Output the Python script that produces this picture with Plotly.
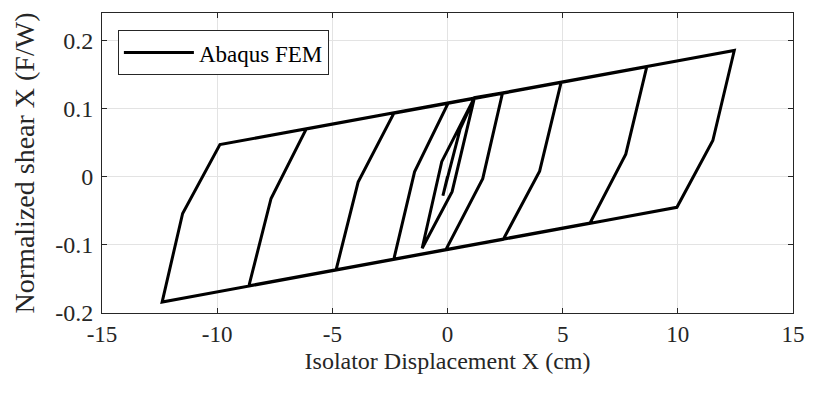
import plotly.graph_objects as go

# Hysteresis path (displacement in cm, normalized shear F/W)
disp_cm = [0, 0.35, -0.2, 0.55, 1.17, 0.2, -1.1, -0.25, 1.17,
           2.39, 1.53, -0.07, -2.33, -1.43, 0.03,
           4.93, 4.0, 2.42, -4.84, -3.88, -2.33,
           8.65, 7.74, 6.19, -8.62, -7.66, -6.13,
           12.45, 11.52, 9.96, -12.39, -11.5, -9.88, 12.45]
shear_fw = [0, 0.045, -0.028, 0.07, 0.116, -0.022, -0.105, 0.022, 0.116,
            0.123, -0.003, -0.107, -0.121, 0.007, 0.108,
            0.138, 0.008, -0.092, -0.137, -0.008, 0.093,
            0.161, 0.033, -0.068, -0.160, -0.032, 0.070,
            0.185, 0.053, -0.045, -0.184, -0.054, 0.047, 0.185]

x_ticks = [-15, -10, -5, 0, 5, 10, 15]
x_tick_text = ["-15", "-10", "-5", "0", "5", "10", "15"]
y_ticks = [-0.2, -0.1, 0, 0.1, 0.2]
y_tick_text = ["-0.2", "-0.1", "0", "0.1", "0.2"]

FONT = "Liberation Serif"
AXIS_COLOR = "#262626"
GRID_COLOR = "#e3e3e3"

fig = go.Figure()
fig.add_trace(go.Scatter(x=disp_cm, y=shear_fw, mode="lines", name="Abaqus FEM",
                         line=dict(color="black", width=3)))

fig.update_layout(
    width=817, height=395,
    margin=dict(l=102, r=17, t=13, b=82),
    paper_bgcolor="white", plot_bgcolor="white",
    font=dict(family=FONT, size=23, color=AXIS_COLOR),
    showlegend=True,
    legend=dict(x=0.023, y=0.943, xanchor="left", yanchor="top",
                bgcolor="white", bordercolor=AXIS_COLOR, borderwidth=1,
                font=dict(family=FONT, size=23, color="black"),
                itemwidth=70, tracegroupgap=0),
)
fig.update_xaxes(range=[-15, 15], tickvals=x_ticks, ticktext=x_tick_text,
                 showgrid=True, gridcolor=GRID_COLOR, gridwidth=1,
                 showline=True, linecolor=AXIS_COLOR, linewidth=1, mirror="ticks",
                 ticks="inside", ticklen=5, tickcolor=AXIS_COLOR, zeroline=False,
                 tickfont=dict(family=FONT, size=23, color=AXIS_COLOR),
                 title=dict(text="Isolator Displacement X (cm)", standoff=6,
                            font=dict(family=FONT, size=24, color=AXIS_COLOR)))
fig.update_yaxes(range=[-0.2, 0.24], tickvals=y_ticks, ticktext=y_tick_text,
                 showgrid=True, gridcolor=GRID_COLOR, gridwidth=1,
                 showline=True, linecolor=AXIS_COLOR, linewidth=1, mirror="ticks",
                 ticks="inside", ticklen=5, tickcolor=AXIS_COLOR, zeroline=False,
                 ticklabelstandoff=3,
                 tickfont=dict(family=FONT, size=24, color=AXIS_COLOR),
                 title=dict(text="Normalized shear X (F/W)", standoff=12,
                            font=dict(family=FONT, size=28, color=AXIS_COLOR)))

fig.write_html("out.html")
